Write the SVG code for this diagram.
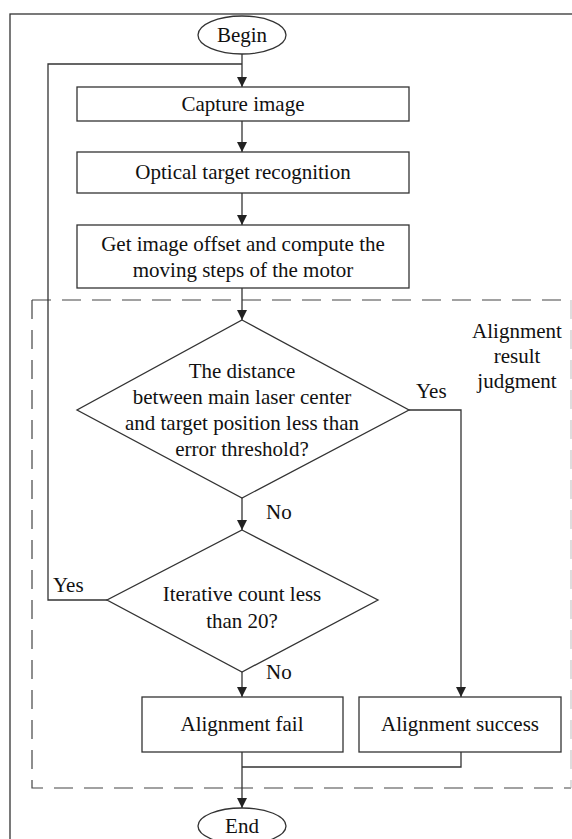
<svg xmlns="http://www.w3.org/2000/svg" width="572" height="839" viewBox="0 0 572 839">
  <defs>
    <marker id="arrow" viewBox="0 0 10 10" refX="10" refY="5" markerWidth="10" markerHeight="10" markerUnits="userSpaceOnUse" orient="auto">
      <path d="M0,0 L10,5 L0,10 z" fill="#222"/>
    </marker>
    <style>
      .box { fill: #fff; stroke: #333; stroke-width: 1.3; }
      .line { fill: none; stroke: #333; stroke-width: 1.3; }
      .arr { fill: none; stroke: #333; stroke-width: 1.3; marker-end: url(#arrow); }
      .dash { fill: none; stroke: #444; stroke-width: 1.2; stroke-dasharray: 19 11; }
      .t { font-family: "Liberation Serif", "Times New Roman", serif; font-size: 21px; fill: #111; text-anchor: middle; }
      .lbl { font-family: "Liberation Serif", "Times New Roman", serif; font-size: 21px; fill: #111; }
    </style>
  </defs>

  <rect width="572" height="839" fill="#fff"/>
  <!-- outer frame -->
  <rect x="10" y="14" width="600" height="900" class="line"/>

  <!-- alignment judgment region -->
  <g id="judgment-region">
    <path d="M32,300 H571" class="dash"/>
    <path d="M32,300 V788 H571" class="dash"/>
    <path d="M571,300 V788" fill="none" stroke="#bbb" stroke-width="1" stroke-dasharray="19 11"/>
    <text class="t" x="517" y="338">Alignment</text>
    <text class="t" x="517" y="363">result</text>
    <text class="t" x="517" y="388">judgment</text>
  </g>

  <g id="connectors">
    <line x1="242" y1="54" x2="242" y2="87" class="arr"/>
    <path d="M107,600 H48 V64 H242" class="line"/>
    <line x1="242" y1="121" x2="242" y2="152" class="arr"/>
    <line x1="242" y1="193" x2="242" y2="225" class="arr"/>
    <line x1="242" y1="288" x2="242" y2="320" class="arr"/>
    <path d="M409,410 H461 V697" class="arr"/>
    <line x1="242" y1="498" x2="242" y2="530" class="arr"/>
    <line x1="242" y1="672" x2="242" y2="697" class="arr"/>
    <path d="M461,752 V767 H242" class="line"/>
    <line x1="242" y1="752" x2="242" y2="808" class="arr"/>
    <text class="lbl" x="416" y="398">Yes</text>
    <text class="lbl" x="266" y="519">No</text>
    <text class="lbl" x="53" y="592">Yes</text>
    <text class="lbl" x="266" y="679">No</text>
  </g>

  <g id="begin">
    <ellipse cx="242" cy="35" rx="44" ry="19" class="box"/>
    <text class="t" x="242" y="42">Begin</text>
  </g>
  <g id="capture">
    <rect x="77" y="87" width="332" height="34" class="box"/>
    <text class="t" x="243" y="111">Capture image</text>
  </g>
  <g id="recognition">
    <rect x="77" y="152" width="332" height="41" class="box"/>
    <text class="t" x="243" y="179">Optical target recognition</text>
  </g>
  <g id="offset">
    <rect x="77" y="225" width="332" height="63" class="box"/>
    <text class="t" x="243" y="251">Get image offset and compute the</text>
    <text class="t" x="243" y="277">moving steps of the motor</text>
  </g>
  <g id="distance-check">
    <polygon points="242,320 409,410 242,498 77,410" class="box"/>
    <text class="t" x="242" y="378">The distance</text>
    <text class="t" x="242" y="404">between main laser center</text>
    <text class="t" x="242" y="430">and target position less than</text>
    <text class="t" x="242" y="456">error threshold?</text>
  </g>
  <g id="count-check">
    <polygon points="242,530 378,600 242,672 107,600" class="box"/>
    <text class="t" x="242" y="601">Iterative count less</text>
    <text class="t" x="242" y="628">than 20?</text>
  </g>
  <g id="fail">
    <rect x="142" y="697" width="201" height="55" class="box"/>
    <text class="t" x="242" y="731">Alignment fail</text>
  </g>
  <g id="success">
    <rect x="359" y="697" width="202" height="55" class="box"/>
    <text class="t" x="460" y="731">Alignment success</text>
  </g>
  <g id="end">
    <ellipse cx="242" cy="826" rx="44" ry="18" class="box"/>
    <text class="t" x="242" y="833">End</text>
  </g>
</svg>
